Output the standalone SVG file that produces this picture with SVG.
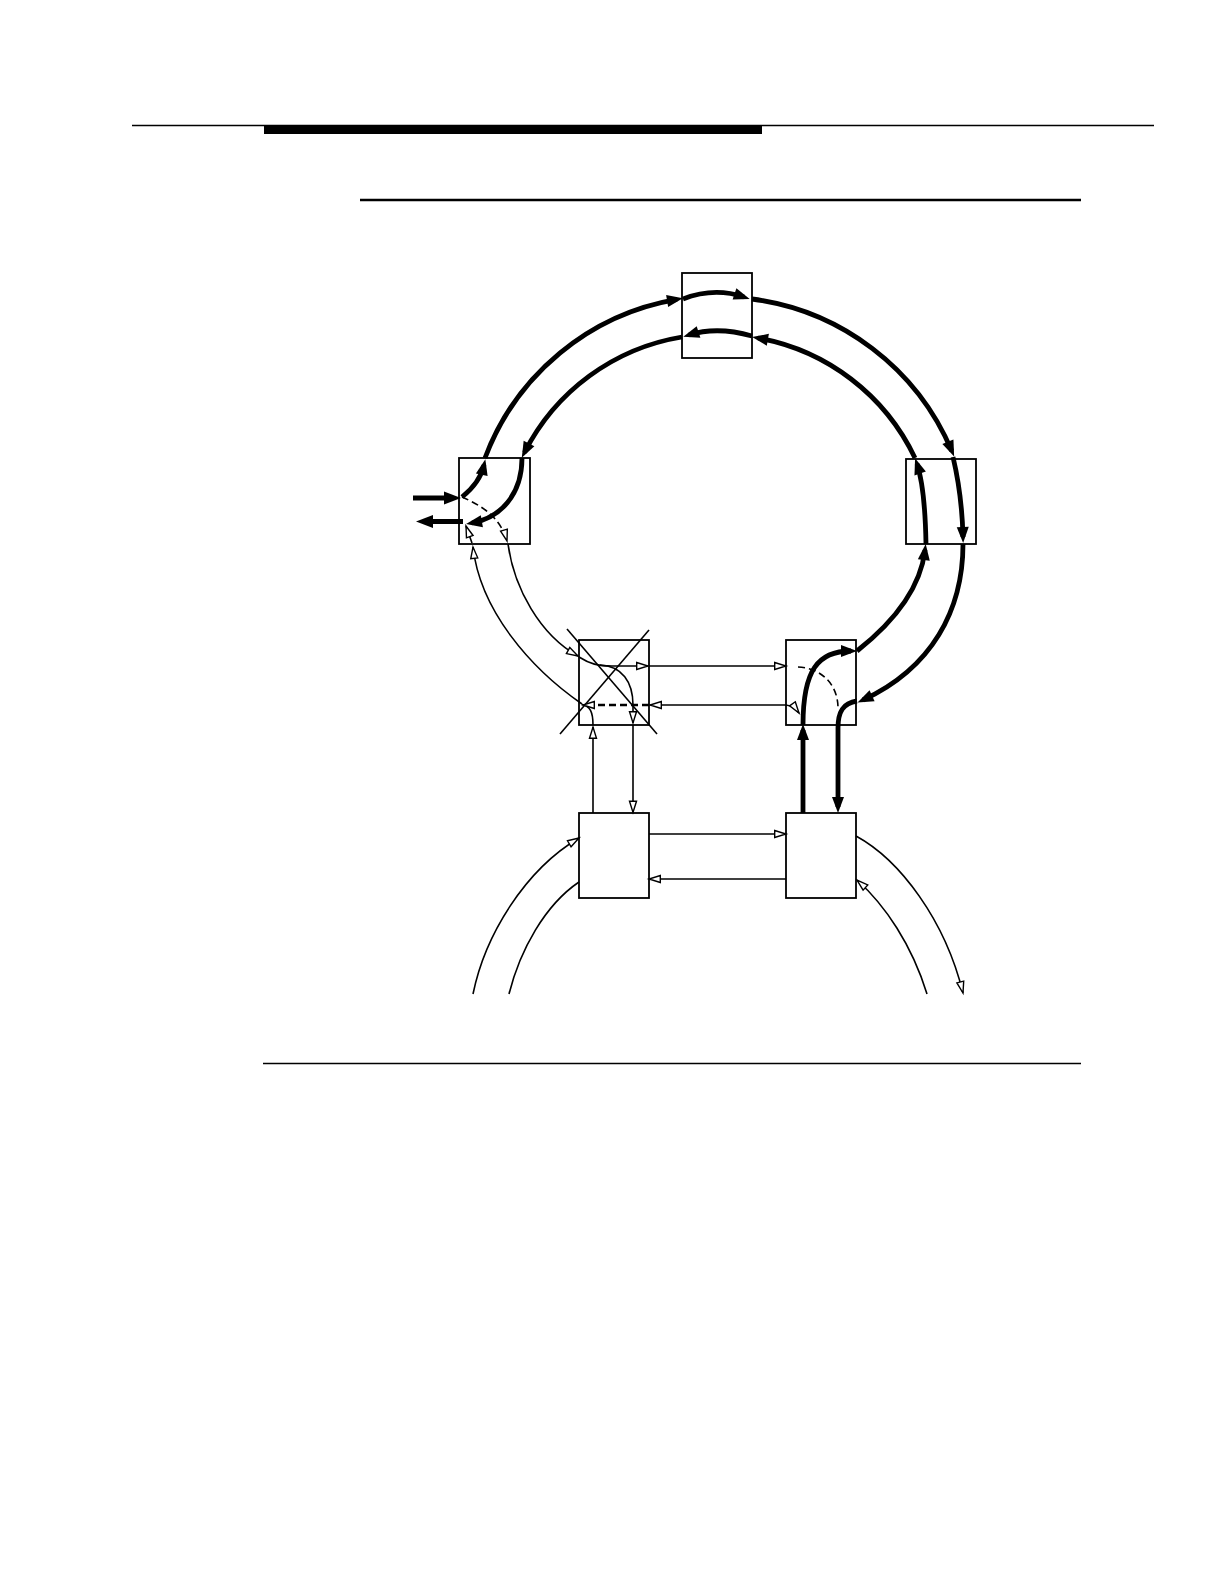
<svg xmlns="http://www.w3.org/2000/svg" width="1222" height="1582" viewBox="0 0 1222 1582">
<style>
.box{fill:none;stroke:#000;stroke-width:1.8}
.thick{fill:none;stroke:#000;stroke-width:4.8}
.inp{fill:none;stroke:#000;stroke-width:5.2}
.thin{fill:none;stroke:#000;stroke-width:1.6}
.dash{fill:none;stroke:#000;stroke-width:1.6;stroke-dasharray:7,4}
.dash2{fill:none;stroke:#000;stroke-width:2.6;stroke-dasharray:7,4}
.fa{marker-end:url(#fa)}
.fb{marker-end:url(#fb)}
.oa{marker-end:url(#oa)}
</style>
<defs>
<marker id="fa" markerUnits="userSpaceOnUse" markerWidth="17" markerHeight="13" refX="10" refY="6" orient="auto" overflow="visible"><path d="M0,0 L16,6 L0,12 z" fill="#000"/></marker>
<marker id="fb" markerUnits="userSpaceOnUse" markerWidth="18" markerHeight="14" refX="9" refY="6.5" orient="auto" overflow="visible"><path d="M0,0 L17,6.5 L0,13 z" fill="#000"/></marker>
<marker id="oa" markerUnits="userSpaceOnUse" markerWidth="14" markerHeight="10" refX="12" refY="4" orient="auto" overflow="visible"><path d="M0.7,0.5 L12,4 L0.7,7.5 z" fill="#fff" stroke="#000" stroke-width="1.4"/></marker>
</defs>
<rect width="1222" height="1582" fill="#fff"/>
<g id="page-rules">
<line x1="132" y1="125.5" x2="1154" y2="125.5" stroke="#000" stroke-width="1.3"/>
<rect x="264" y="125" width="498" height="9" fill="#000"/>
<line x1="360" y1="200" x2="1081" y2="200" stroke="#000" stroke-width="2.4"/>
<line x1="263" y1="1063.5" x2="1081" y2="1063.5" stroke="#000" stroke-width="1.3"/>
</g>
<g id="node-top"><rect class="box" x="682" y="273" width="70" height="85"/></g>
<g id="node-left"><rect class="box" x="459" y="458" width="71" height="86"/></g>
<g id="node-right"><rect class="box" x="906" y="459" width="70" height="85"/></g>
<g id="node-failed">
<rect class="box" x="579" y="640" width="70" height="85"/>
<line x1="567" y1="629" x2="657" y2="734" stroke="#000" stroke-width="1.6"/>
<line x1="649" y1="630" x2="560" y2="734" stroke="#000" stroke-width="1.6"/>
</g>
<g id="node-midright"><rect class="box" x="786" y="640" width="70" height="85"/></g>
<g id="node-botleft"><rect class="box" x="579" y="813" width="70" height="85"/></g>
<g id="node-botright"><rect class="box" x="786" y="813" width="70" height="85"/></g>
<g id="connectors">
<path class="inp fb" d="M413,498 L453,498"/>
<path class="inp fb" d="M463,521.5 L424,521.5"/>
<path class="thick fa" d="M462,497 C472,489 481,478 484,465"/>
<path class="thick fa" d="M485,458 A250,250 0 0 1 677,299.3"/>
<path class="thick fa" d="M683,299 Q714,287 744,297"/>
<path class="thick fa" d="M752,299 A252,252 0 0 1 951.8,451"/>
<path class="thick fa" d="M953,457 Q962,495 963,537"/>
<path class="thick fa" d="M963,544 C963,610 932,668 863,700"/>
<path class="thick fa" d="M857,701 C843,703 838,712 838,728 L838,807"/>
<path class="thick fa" d="M803,813 L803,730"/>
<path class="thick fa" d="M803,725 C803,670 818,651 851,651"/>
<path class="thick fa" d="M857,651 C890,625 920,592 925,550"/>
<path class="thick fa" d="M926,544 Q925,488 917,464"/>
<path class="thick fa" d="M915,458 A216,216 0 0 0 758,338"/>
<path class="thick fa" d="M752,336 Q717,326 689,335"/>
<path class="thick fa" d="M682,337 A216,216 0 0 0 524.5,452.5"/>
<path class="thick fa" d="M522,458 C522,495 500,518 472,523"/>
<path class="dash oa" d="M462,497 C480,505 500,516 507,541"/>
<path class="dash oa" d="M472,543 L466,526"/>
<path class="thin oa" d="M582,704 C530,668 480,610 473,547"/>
<path class="thin oa" d="M508,544 C514,588 540,635 578,656"/>
<path class="thin oa" d="M579,657 C590,664 598,666 612,666 L648,666"/>
<path class="thin oa" d="M649,666 L786,666"/>
<path class="thin oa" d="M600,665 C622,666 633,682 633,705 L633,723"/>
<path class="thin oa" d="M633,725 L633,812.5"/>
<path class="thin oa" d="M593,813 L593,727"/>
<path class="thin" d="M593,725 C593,712 590,706 582,704.5"/>
<path class="dash2 oa" d="M649,705 L583,705"/>
<path class="thin oa" d="M786,705 L650,705"/>
<path class="thin oa" d="M786,705 Q794,706 799,713"/>
<path class="dash" d="M798,667 C822,668 838,685 838,708"/>
<path class="thin oa" d="M649,834 L786,834"/>
<path class="thin oa" d="M786,879 L649,879"/>
<path class="thin oa" d="M473,994 C485,935 525,870 579,838"/>
<path class="thin" d="M509,994 C520,950 545,905 579,882"/>
<path class="thin oa" d="M856,836 C900,860 945,920 963,993"/>
<path class="thin oa" d="M927,994 C912,945 885,905 857,880"/>
</g>
</svg>
